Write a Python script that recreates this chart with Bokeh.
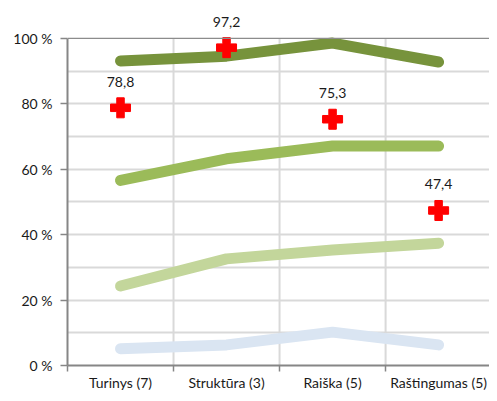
from bokeh.plotting import figure
from bokeh.models import ColumnDataSource, FixedTicker, Span, LabelSet
from bokeh.core.properties import value
from bokeh.embed import file_html
from bokeh.resources import INLINE

categories = ["Turinys (7)", "Struktūra (3)", "Raiška (5)", "Raštingumas (5)"]
series_dark = [93.1, 94.6, 98.6, 92.8]
series_mid = [56.6, 63.2, 67.1, 67.1]
series_light = [24.3, 32.6, 35.3, 37.4]
series_blue = [5.1, 6.3, 10.2, 6.3]
marker_values = [78.8, 97.2, 75.3, 47.4]
marker_labels = ["78,8", "97,2", "75,3", "47,4"]
y_ticks = [0, 20, 40, 60, 80, 100]
y_tick_labels = ["0 %", "20 %", "40 %", "60 %", "80 %", "100 %"]

xs = [i + 0.5 for i in range(len(categories))]
boundaries = list(range(1, len(categories)))
y_max = y_ticks[-1]

p = figure(width=489, height=393, x_range=(0, 3.98), y_range=(0, 111),
           output_backend="svg", toolbar_location=None,
           min_border_left=67, min_border_right=0, min_border_top=2, min_border_bottom=20)
p.outline_line_color = None
p.background_fill_color = "white"

# grid
p.xgrid.visible = False
p.segment(x0=boundaries, y0=[0] * len(boundaries), x1=boundaries, y1=[y_max] * len(boundaries),
          line_color="#D9D9D9", line_width=2)
p.ygrid.ticker = FixedTicker(ticks=[10, 20, 30, 40, 50, 60, 70, 80, 90])
p.ygrid.grid_line_color = "#D9D9D9"
p.ygrid.grid_line_width = 2
p.add_layout(Span(location=y_max, dimension="width", line_color="#8C8C8C", line_width=1.2))

FONT = "Lato"
# y axis
p.yaxis.ticker = FixedTicker(ticks=y_ticks, minor_ticks=[])
p.yaxis.bounds = (0, y_max)
p.yaxis.major_label_overrides = {t: l for t, l in zip(y_ticks, y_tick_labels)}
p.yaxis.axis_line_color = "#868686"
p.yaxis.axis_line_width = 2
p.yaxis.major_tick_line_color = "#868686"
p.yaxis.major_tick_line_width = 1.5
p.yaxis.major_tick_out = 7
p.yaxis.major_tick_in = 0
p.yaxis.minor_tick_line_color = None
p.yaxis.major_label_standoff = 8
p.yaxis.major_label_text_font = FONT
p.yaxis.major_label_text_font_size = "14px"
p.yaxis.major_label_text_color = "#1A1A1A"

# x axis
p.xaxis.ticker = FixedTicker(ticks=xs, minor_ticks=[0] + boundaries)
p.xaxis.major_label_overrides = {x: c for x, c in zip(xs, categories)}
p.xaxis.axis_line_color = "#868686"
p.xaxis.axis_line_width = 2
p.xaxis.major_tick_line_color = None
p.xaxis.major_tick_out = 0
p.xaxis.major_tick_in = 0
p.xaxis.minor_tick_line_color = "#868686"
p.xaxis.minor_tick_line_width = 1.5
p.xaxis.minor_tick_out = 6
p.xaxis.minor_tick_in = 0
p.xaxis.major_label_standoff = 2
p.xaxis.major_label_text_font = FONT
p.xaxis.major_label_text_font_size = "14px"
p.xaxis.major_label_text_color = "#1A1A1A"

for vals, color in [(series_blue, "#DAE5F2"), (series_light, "#C3D69B"),
                    (series_mid, "#9BBB59"), (series_dark, "#77933C")]:
    p.line(xs, vals, line_color=color, line_width=11, line_cap="round", line_join="round")

src = ColumnDataSource(dict(x=xs, y=marker_values, t=marker_labels))
p.scatter("x", "y", source=src, marker="plus", size=20, fill_color="#FF0000", line_color="#FF0000")
p.add_layout(LabelSet(x="x", y="y", text="t", source=src, y_offset=21, text_align="center",
                      text_baseline="bottom", text_font=value(FONT), text_font_size="14px",
                      text_color="#1A1A1A"))

open("out.html", "w").write(file_html(p, INLINE))
